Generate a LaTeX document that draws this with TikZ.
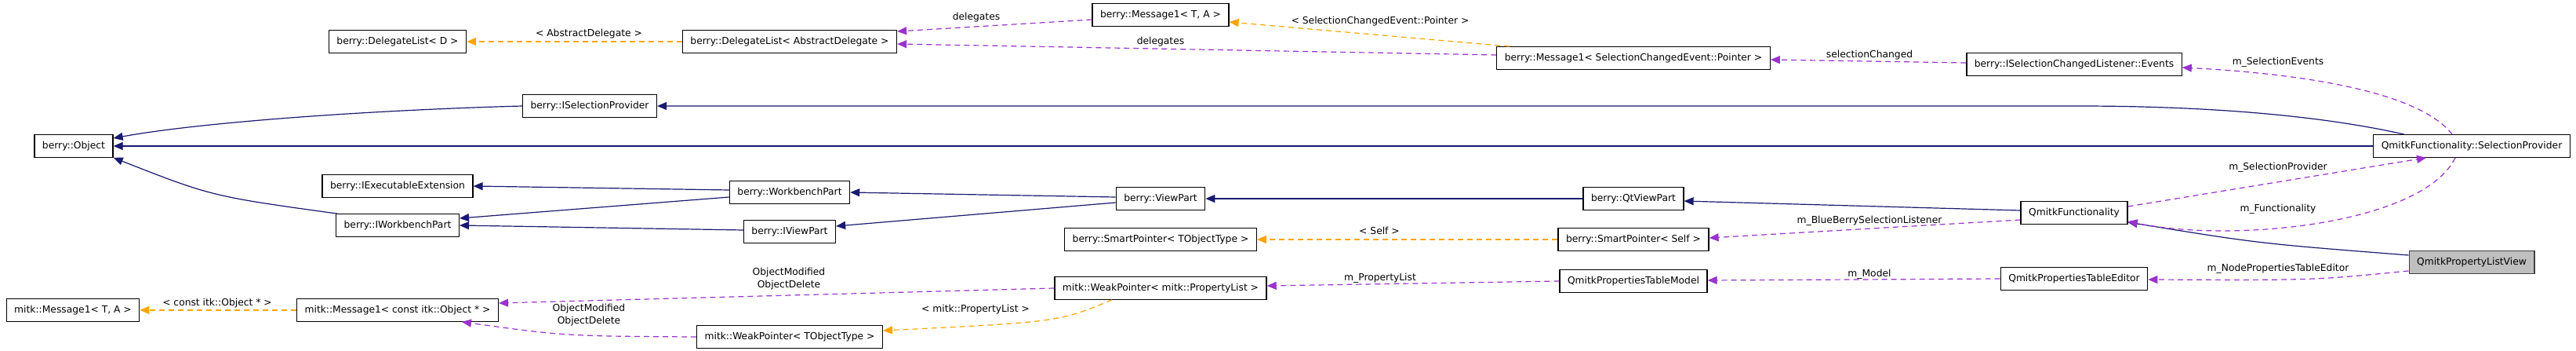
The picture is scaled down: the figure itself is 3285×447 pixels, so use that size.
\documentclass[tikz,border=0pt]{standalone}
\usepackage{fontspec}
\setmainfont{DejaVu Sans}
\usetikzlibrary{arrows.meta,calc}
\definecolor{inhblue}{HTML}{191970}
\definecolor{usepurple}{HTML}{9A32CD}
\definecolor{tplorange}{HTML}{FFA500}

\begin{document}
\begin{tikzpicture}[x=1pt,y=-1pt,
  cls/.style={draw=black,line width=1.3pt,fill=white,minimum height=28.5pt,
    inner xsep=10pt,inner ysep=0pt,font=\fontsize{12.3}{15}\selectfont},
  lbl/.style={inner sep=0pt,align=center,font=\fontsize{12.3}{16.5}\selectfont},
  inh/.style={color=inhblue,line width=1.2pt,-{Triangle[length=12pt,width=10pt]}},
  uses/.style={color=usepurple,line width=1.2pt,dash pattern=on 7pt off 5pt,
    -{Triangle[length=12pt,width=10pt]}},
  tpl/.style={color=tplorange,line width=1.2pt,dash pattern=on 7pt off 5pt,
    -{Triangle[length=12pt,width=10pt]}}]
  \useasboundingbox[fill=white] (0,0) rectangle (3285,447);

  % Classes
  \node[cls] (dlD)     at (507,53)   {berry::DelegateList< D >};
  \node[cls] (dlAD)    at (1007,53)  {berry::DelegateList< AbstractDelegate >};
  \node[cls] (msgTA)   at (1480,19)  {berry::Message1< T, A >};
  \node[cls] (msgSCE)  at (2083,74)  {berry::Message1< SelectionChangedEvent::Pointer >};
  \node[cls] (events)  at (2645,82)  {berry::ISelectionChangedListener::Events};
  \node[cls] (isp)     at (752,135)  {berry::ISelectionProvider};
  \node[cls] (obj)     at (94,186)   {berry::Object};
  \node[cls] (selprov) at (3152,186) {QmitkFunctionality::SelectionProvider};
  \node[cls] (iexec)   at (507,237)  {berry::IExecutableExtension};
  \node[cls] (iwbp)    at (507,287)  {berry::IWorkbenchPart};
  \node[cls] (wbp)     at (1007,245) {berry::WorkbenchPart};
  \node[cls] (iviewp)  at (1007,295) {berry::IViewPart};
  \node[cls] (viewp)   at (1480,253) {berry::ViewPart};
  \node[cls] (qtviewp) at (2083,253) {berry::QtViewPart};
  \node[cls] (qfunc)   at (2645,271) {QmitkFunctionality};
  \node[cls] (spT)     at (1480,305) {berry::SmartPointer< TObjectType >};
  \node[cls] (spSelf)  at (2083,305) {berry::SmartPointer< Self >};
  \node[cls,fill=black!25,draw=black!75] (plview) at (3152,334) {QmitkPropertyListView};
  \node[cls] (tmodel)  at (2083,358) {QmitkPropertiesTableModel};
  \node[cls] (teditor) at (2645,355) {QmitkPropertiesTableEditor};
  \node[cls] (wpPL)    at (1480,367) {mitk::WeakPointer< mitk::PropertyList >};
  \node[cls] (wpT)     at (1007,429) {mitk::WeakPointer< TObjectType >};
  \node[cls] (mitkTA)  at (93,395)   {mitk::Message1< T, A >};
  \node[cls] (mitkItk) at (507,395)  {mitk::Message1< const itk::Object * >};

  % Inheritance
  \draw[inh] (isp.west) .. controls (480,140) and (260,155) .. ([yshift=10pt]obj.east);
  \draw[inh] ([xshift=-86pt]selprov.north) .. controls (2950,145) and (2800,135) .. (2650,135) -- (isp.east);
  \draw[inh] (selprov.west) -- (obj.east);
  \draw[inh] ([yshift=3pt]wbp.west) -- (iexec.east);
  \draw[inh] ([yshift=-6pt]wbp.west) -- ([yshift=9pt]iwbp.east);
  \draw[inh] ([xshift=-77pt]iwbp.north) .. controls (270,250) .. (obj.south east);
  \draw[inh] ([yshift=2pt]iviewp.west) -- (iwbp.east);
  \draw[inh] ([yshift=2pt]viewp.west) -- (wbp.east);
  \draw[inh] ([yshift=-5pt]viewp.west) -- ([yshift=7pt]iviewp.east);
  \draw[inh] (qtviewp.west) -- (viewp.east);
  \draw[inh] ([yshift=3pt]qfunc.west) -- ([yshift=-3pt]qtviewp.east);
  \draw[inh] ([yshift=9pt]plview.west) .. controls (2880,310) .. ([yshift=-12pt]qfunc.east);

  % Usage
  \draw[uses] ([yshift=-6pt]msgTA.west) -- ([yshift=13pt]dlAD.east);
  \draw[uses] ([yshift=4pt]msgSCE.west) -- ([yshift=-3pt]dlAD.east);
  \draw[uses] ([yshift=2pt]events.west) -- ([yshift=-2pt]msgSCE.east);
  \draw[uses] ([xshift=-25pt]selprov.north) .. controls (3080,110) and (2900,92) .. ([yshift=-4pt]events.east);
  \draw[uses] ([yshift=8pt]qfunc.east) -- ([xshift=-58pt]selprov.south);
  \draw[uses] ([xshift=-21pt]selprov.south) .. controls (3090,285) and (2850,310) .. ([yshift=-11pt]qfunc.east);
  \draw[uses] ([yshift=-9pt]qfunc.west) -- ([yshift=2pt]spSelf.east);
  \draw[uses] ([yshift=-11pt]plview.west) .. controls (2950,357) .. ([yshift=-1pt]teditor.east);
  \draw[uses] (teditor.west) -- ([yshift=1pt]tmodel.east);
  \draw[uses] (tmodel.west) -- ([yshift=3pt]wpPL.east);
  \draw[uses] (wpPL.west) -- ([yshift=9pt]mitkItk.east);
  \draw[uses] (wpT.west) .. controls (720,428) .. ([xshift=82pt]mitkItk.south);

  % Templates
  \draw[tpl] (dlAD.west) -- (dlD.east);
  \draw[tpl] ([xshift=-158pt]msgSCE.north) -- ([yshift=-9pt]msgTA.east);
  \draw[tpl] (spSelf.west) -- (spT.east);
  \draw[tpl] ([xshift=-62pt]wpPL.south) .. controls (1350,410) .. ([yshift=8pt]wpT.east);
  \draw[tpl] (mitkItk.west) -- (mitkTA.east);

  % Labels
  \node[lbl] (lAbsDel)     at (751,43)   {< AbstractDelegate >};
  \node[lbl] (lDel1)       at (1245,22)  {delegates};
  \node[lbl] (lDel2)       at (1480,53)  {delegates};
  \node[lbl] (lSCEPtr)     at (1760,27)  {< SelectionChangedEvent::Pointer >};
  \node[lbl] (lSelChanged) at (2384,70)  {selectionChanged};
  \node[lbl] (lSelEvents)  at (2905,79)  {m\_SelectionEvents};
  \node[lbl] (lSelProv)    at (2905,213) {m\_SelectionProvider};
  \node[lbl] (lFunc)       at (2905,266) {m\_Functionality};
  \node[lbl] (lBBSel)      at (2384,281) {m\_BlueBerrySelectionListener};
  \node[lbl] (lSelf)       at (1759,294) {< Self >};
  \node[lbl] (lNodeProp)   at (2905,342) {m\_NodePropertiesTableEditor};
  \node[lbl] (lModel)      at (2384,349) {m\_Model};
  \node[lbl] (lPropList)   at (1760,354) {m\_PropertyList};
  \node[lbl] (lObjMod1)    at (1006,355) {ObjectModified\\ObjectDelete};
  \node[lbl] (lMitkPL)     at (1244,394) {< mitk::PropertyList >};
  \node[lbl] (lObjMod2)    at (751,401)  {ObjectModified\\ObjectDelete};
  \node[lbl] (lConstItk)   at (277,386)  {< const itk::Object * >};
\end{tikzpicture}
\end{document}
